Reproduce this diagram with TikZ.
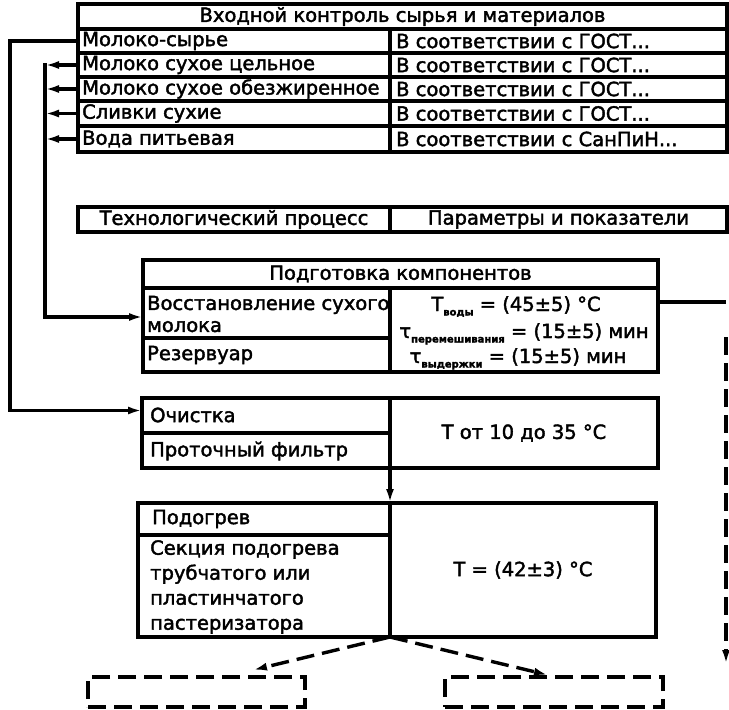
\documentclass[tikz,border=0pt]{standalone}
\usepackage{fontspec}
\setmainfont{DejaVu Sans}[FakeBold=2]
\usetikzlibrary{arrows.meta}
\newcommand{\mkcell}[5]{\node[cellbox, minimum width={#4-#2}, minimum height={#5-#3}] (#1) at (#2,#3) {};}
\newcommand{\lowsub}[1]{\raisebox{-4.5pt}{\fontsize{10}{10}\selectfont\bfseries #1}}
\tikzset{
  cellbox/.style={draw, line width=3.2pt, inner sep=0pt, outer sep=0pt, anchor=north west},
  txt/.style={inner sep=0pt, font=\fontsize{19.5}{22}\selectfont},
  conn/.style={line width=3.2pt, -{Latex[length=14pt,width=8pt]}},
  plainline/.style={line width=3.2pt},
  dconn/.style={line width=3.4pt, dash pattern=on 18pt off 8pt, -{Latex[length=14pt,width=8pt]}},
  dbox/.style={draw, line width=3.2pt, dash pattern=on 18pt off 8pt, inner sep=0pt, outer sep=0pt, anchor=north west},
}
\begin{document}
\begin{tikzpicture}[x=1pt,y=-1pt]
\useasboundingbox[fill=white] (0,0) rectangle (729,710);
% top table
\mkcell{hd}{78}{4}{727}{29}
\mkcell{r1l}{78}{29}{390}{53}
\mkcell{r2l}{78}{53}{390}{77}
\mkcell{r3l}{78}{77}{390}{101}
\mkcell{r4l}{78}{101}{390}{126}
\mkcell{r5l}{78}{126}{390}{152}
\mkcell{r1r}{390}{29}{727}{53}
\mkcell{r2r}{390}{53}{727}{77}
\mkcell{r3r}{390}{77}{727}{101}
\mkcell{r4r}{390}{101}{727}{126}
\mkcell{r5r}{390}{126}{727}{152}
\node[txt] (thd) at (hd.center) {Входной контроль сырья и материалов};
\node[txt, anchor=west] (t1l) at (82,41) {Молоко-сырье};
\node[txt, anchor=west] (t2l) at (82,65) {Молоко сухое цельное};
\node[txt, anchor=west] (t3l) at (82,89) {Молоко сухое обезжиренное};
\node[txt, anchor=west] (t4l) at (82,113.5) {Сливки сухие};
\node[txt, anchor=west] (t5l) at (82,139) {Вода питьевая};
\node[txt, anchor=west] (t1r) at (396,41) {В соответствии с ГОСТ...};
\node[txt, anchor=west] (t2r) at (396,65) {В соответствии с ГОСТ...};
\node[txt, anchor=west] (t3r) at (396,89) {В соответствии с ГОСТ...};
\node[txt, anchor=west] (t4r) at (396,113.5) {В соответствии с ГОСТ...};
\node[txt, anchor=west] (t5r) at (396,139) {В соответствии с СанПиН...};
% header of process table
\mkcell{tp}{78}{207}{390}{232}
\mkcell{pp}{390}{207}{727}{232}
\node[txt] (ttp) at (tp.center) {Технологический процесс};
\node[txt] (tpp) at (pp.center) {Параметры и показатели};
% Подготовка компонентов
\mkcell{pkh}{143}{260}{658}{288}
\mkcell{vos}{143}{288}{390}{338}
\mkcell{rez}{143}{338}{390}{372}
\mkcell{pkp}{390}{288}{658}{372}
\node[txt] (tpkh) at (pkh.center) {Подготовка компонентов};
\node[txt, anchor=west, align=left] (tvos) at (147,314) {Восстановление сухого\\молока};
\node[txt, anchor=west] (trez) at (147,355) {Резервуар};
\node[txt, anchor=base] (tpk1) at (516,311) {T\lowsub{воды} = (45±5) °C};
\node[txt, anchor=base] (tpk2) at (524,338) {τ\lowsub{перемешивания} = (15±5) мин};
\node[txt, anchor=base] (tpk3) at (518,363) {τ\lowsub{выдержки} = (15±5) мин};
% Очистка
\mkcell{och}{142}{398}{390}{433}
\mkcell{pf}{142}{433}{390}{468}
\mkcell{ochp}{390}{398}{658}{468}
\node[txt, anchor=west] (toch) at (150,415) {Очистка};
\node[txt, anchor=west] (tpf) at (150,451) {Проточный фильтр};
\node[txt] (tochp) at (ochp.center) {T от 10 до 35 °C};
% Подогрев
\mkcell{pdh}{138}{503}{390}{535}
\mkcell{sek}{138}{535}{390}{637}
\mkcell{pdp}{390}{503}{656}{637}
\node[txt, anchor=west] (tpdh) at (152,519) {Подогрев};
\node[txt, anchor=west, align=left, font=\fontsize{19.5}{25}\selectfont] (tsek) at (150,587) {Секция подогрева\\трубчатого или\\пластинчатого\\пастеризатора};
\node[txt] (tpdp) at (pdp.center) {T = (42±3) °C};
% dashed boxes
\node[dbox, minimum width=217, minimum height=30] (dl) at (88,677) {};
\node[dbox, minimum width=218, minimum height=30] (dr) at (445,677) {};
% connectors
\coordinate (outer) at (10,41);
\coordinate (bus) at (45,63);
\draw[conn] (r1l.west) -- (outer) |- ([yshift=5pt]och.west);
\foreach \r in {r2l,r3l,r4l,r5l} \draw[conn] (\r.west) -- (\r.west -| bus);
\draw[conn] (bus) |- ([yshift=-4pt]vos.west);
\coordinate (rc) at (726,302);
\draw[plainline] (pkp.east |- rc) -- (rc);
\coordinate (rd1) at (726,337);
\coordinate (rd2) at (726,664);
\draw[dconn] (rd1) -- (rd2);
\draw[conn] (ochp.south west) -- (pdp.north west);
\coordinate (dlt) at (253,670);
\coordinate (drt) at (548,675);
\draw[dconn] (pdp.south west) -- (dlt);
\draw[dconn] (pdp.south west) -- (drt);
\end{tikzpicture}
\end{document}
